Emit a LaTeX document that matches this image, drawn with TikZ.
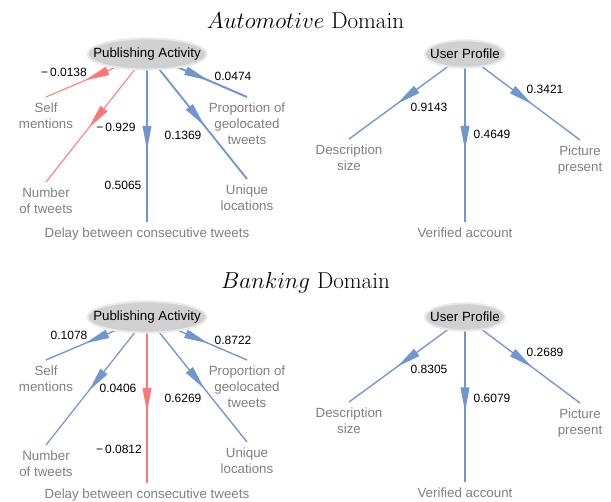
\documentclass[tikz,border=0pt]{standalone}
\usepackage{fontspec}
\setsansfont{Liberation Sans}
\usetikzlibrary{shapes.geometric,decorations.markings,backgrounds}
\definecolor{posblue}{RGB}{112,150,208}
\definecolor{negred}{RGB}{255,118,118}
\definecolor{hubgray}{RGB}{208,208,208}
\definecolor{leafgray}{RGB}{128,128,128}

\begin{document}
\begin{tikzpicture}[
		x=0.75pt,
		y=-0.75pt,
		font=\sffamily,
		title/.style={
			anchor=base,
			font=\rmfamily\LARGE,
		},
		hub/.style={
			shape=ellipse,
			fill=hubgray,
			draw=hubgray!45,
			line width=1.5pt,
			inner ysep=3.6pt,
		},
		leaf/.style={
			anchor=north,
			align=center,
			text=leafgray,
			inner sep=4.2pt,
		},
		weight/.style={
			font=\sffamily\small,
		},
		link/.style={
			draw=#1,
			postaction={
				decorate,
				decoration={
					markings,
					mark=at position 0.5 with {\fill[#1] (-9pt,-3.4pt) -- (9pt,0pt) -- (-9pt,3.4pt) -- cycle;},
				},
			},
		},
	]
	\useasboundingbox (0,0) rectangle (611,502);

	\node[title] (autotitle) at (305.5,29) {$Automotive$ Domain};
	\node[title] (banktitle) at (305.5,289) {$Banking$ Domain};

	\node[hub, inner xsep=-8.7pt] (pa1) at (147,54) {Publishing Activity};
	\node[leaf] (self1) at (46,97) {Self\\mentions};
	\node[leaf] (tweets1) at (46,182) {Number\\of tweets};
	\node[leaf] (delay1) at (147,222) {Delay between consecutive tweets};
	\node[leaf] (places1) at (247,179) {Unique\\locations};
	\node[leaf] (geo1) at (247,97) {Proportion of\\geolocated\\tweets};
	\node[weight] (wself1) at (64,72) {−\,0.0138};
	\node[weight] (wtweets1) at (116,127) {−\,0.929};
	\node[weight] (wdelay1) at (123,185) {0.5065};
	\node[weight] (wplaces1) at (183,135) {0.1369};
	\node[weight] (wgeo1) at (233,76) {0.0474};

	\node[hub, inner xsep=-4.9pt] (up1) at (465,54) {User Profile};
	\node[leaf] (desc1) at (349,139) {Description\\size};
	\node[leaf] (verified1) at (465,222) {Verified account};
	\node[leaf] (picture1) at (580,140) {Picture\\present};
	\node[weight] (wdesc1) at (429,107) {0.9143};
	\node[weight] (wverified1) at (492,134) {0.4649};
	\node[weight] (wpicture1) at (545,89) {0.3421};

	\begin{scope}[on background layer]
		\draw[link=negred, line width=0.75pt] (pa1.center) -- (self1.north);
		\draw[link=negred, line width=0.75pt] (pa1.center) -- (tweets1.north);
		\draw[link=posblue, line width=1pt] (pa1.center) -- (delay1.north);
		\draw[link=posblue, line width=1.35pt] (pa1.center) -- (places1.north);
		\draw[link=posblue, line width=1.5pt] (pa1.center) -- (geo1.north);
		\draw[link=posblue, line width=1pt] (up1.center) -- (desc1.north);
		\draw[link=posblue, line width=1pt] (up1.center) -- (verified1.north);
		\draw[link=posblue, line width=1pt] (up1.center) -- (picture1.north);
	\end{scope}

	\begin{scope}[shift={(0,263)}]
		\node[hub, inner xsep=-8.7pt] (pa2) at (147,54) {Publishing Activity};
		\node[leaf] (self2) at (46,97) {Self\\mentions};
		\node[leaf] (tweets2) at (46,182) {Number\\of tweets};
		\node[leaf] (delay2) at (147,220) {Delay between consecutive tweets};
		\node[leaf] (places2) at (247,179) {Unique\\locations};
		\node[leaf] (geo2) at (247,97) {Proportion of\\geolocated\\tweets};
		\node[weight] (wself2) at (69,72) {0.1078};
		\node[weight] (wtweets2) at (118,125) {0.0406};
		\node[weight] (wdelay2) at (119,186) {−\,0.0812};
		\node[weight] (wplaces2) at (183,135) {0.6269};
		\node[weight] (wgeo2) at (233,77) {0.8722};

		\node[hub, inner xsep=-4.9pt] (up2) at (465,54) {User Profile};
		\node[leaf] (desc2) at (349,139) {Description\\size};
		\node[leaf] (verified2) at (465,219) {Verified account};
		\node[leaf] (picture2) at (580,140) {Picture\\present};
		\node[weight] (wdesc2) at (429,106) {0.8305};
		\node[weight] (wverified2) at (492,135) {0.6079};
		\node[weight] (wpicture2) at (545,89) {0.2689};

		\begin{scope}[on background layer]
			\draw[link=posblue, line width=1pt] (pa2.center) -- (self2.north);
			\draw[link=posblue, line width=0.9pt] (pa2.center) -- (tweets2.north);
			\draw[link=negred, line width=1.35pt] (pa2.center) -- (delay2.north);
			\draw[link=posblue, line width=1pt] (pa2.center) -- (places2.north);
			\draw[link=posblue, line width=1pt] (pa2.center) -- (geo2.north);
			\draw[link=posblue, line width=1pt] (up2.center) -- (desc2.north);
			\draw[link=posblue, line width=1pt] (up2.center) -- (verified2.north);
			\draw[link=posblue, line width=1pt] (up2.center) -- (picture2.north);
		\end{scope}
	\end{scope}
\end{tikzpicture}
\end{document}
